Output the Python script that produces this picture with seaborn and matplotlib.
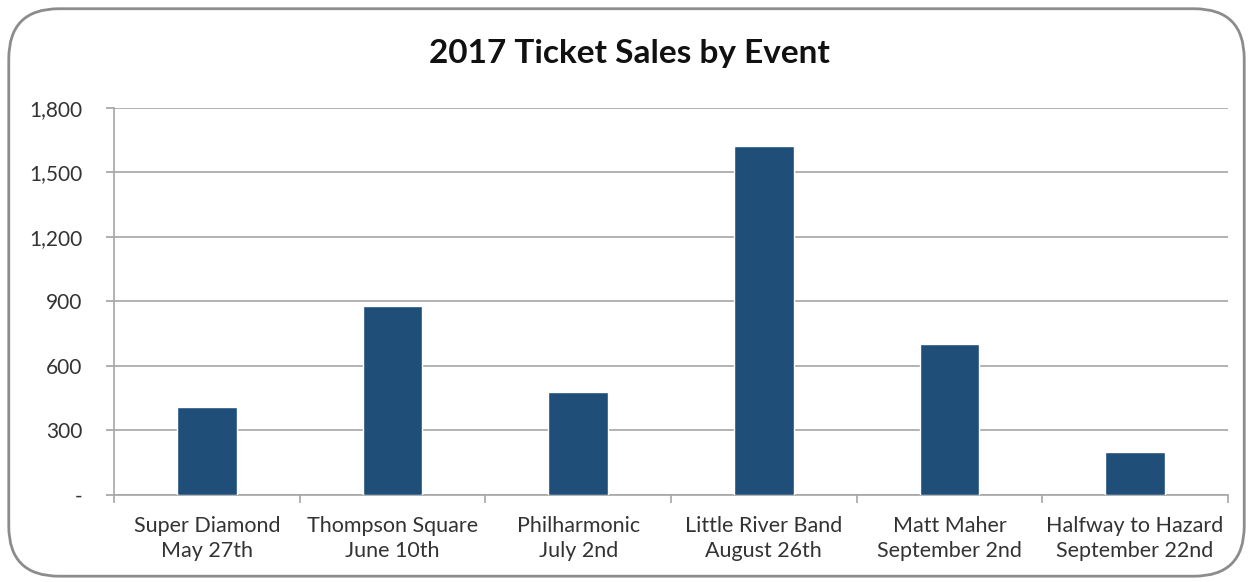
import matplotlib
matplotlib.use("Agg")
import matplotlib.pyplot as plt
import seaborn as sns
import pandas as pd
from matplotlib.patches import FancyBboxPatch
from matplotlib.ticker import FuncFormatter

events = ["Super Diamond\nMay 27th", "Thompson Square\nJune 10th", "Philharmonic\nJuly 2nd",
          "Little River Band\nAugust 26th", "Matt Maher\nSeptember 2nd", "Halfway to Hazard\nSeptember 22nd"]
tickets = [410, 880, 480, 1625, 700, 198]
y_ticks = [0, 300, 600, 900, 1200, 1500, 1800]
title = "2017 Ticket Sales by Event"

sns.set_theme(style="white")
plt.rcParams['font.family'] = ['Lato', 'DejaVu Sans']

df = pd.DataFrame({"event": events, "tickets": tickets})

fig = plt.figure(figsize=(12.53, 5.82), dpi=100)
ax = fig.add_axes([0.091, 0.1495, 0.889, 0.665])

sns.barplot(data=df, x="event", y="tickets", color="#1F4E79", width=0.32,
            saturation=1, ax=ax, zorder=3)

ax.set_ylim(0, 1800)
ax.set_xlim(-0.5, len(events) - 0.5)
ax.set_yticks(y_ticks)
ax.yaxis.set_major_formatter(FuncFormatter(lambda v, p: "-" if v == 0 else f"{int(v):,}"))
ax.grid(axis="y", color="#A6A6A6", linewidth=1.2, zorder=0)
ax.set_axisbelow(True)
ax.set_xlabel("")
ax.set_ylabel("")

for s in ["top", "right"]:
    ax.spines[s].set_visible(False)
ax.spines["left"].set_color("#A6A6A6")
ax.spines["bottom"].set_color("#A6A6A6")
ax.spines["left"].set_linewidth(1.2)
ax.spines["bottom"].set_linewidth(1.2)

ax.tick_params(axis="y", which="both", left=True, length=6, color="#A6A6A6",
               labelsize=15, labelcolor="#333333", pad=17)
# x ticks between categories
ax.set_xticks(range(len(events)))
ax.set_xticklabels(events, fontsize=15.5, color="#333333", linespacing=1.32)
ax.tick_params(axis="x", which="major", length=0, pad=15)
ax.set_xticks([i - 0.5 for i in range(len(events) + 1)], minor=True)
ax.tick_params(axis="x", which="minor", bottom=True, length=6, color="#A6A6A6", width=1.2)

fig.text(0.502, 0.908, title, ha="center", va="center", fontsize=24, fontweight="bold",
         color="#111111")

border = FancyBboxPatch((0.007, 0.01), 0.986, 0.975, boxstyle="round,pad=0,rounding_size=0.04",
                        transform=fig.transFigure, fill=False, edgecolor="#8C8C8C",
                        linewidth=2, mutation_aspect=1253/582)
fig.patches.append(border)

fig.savefig("out.png", dpi=100)
